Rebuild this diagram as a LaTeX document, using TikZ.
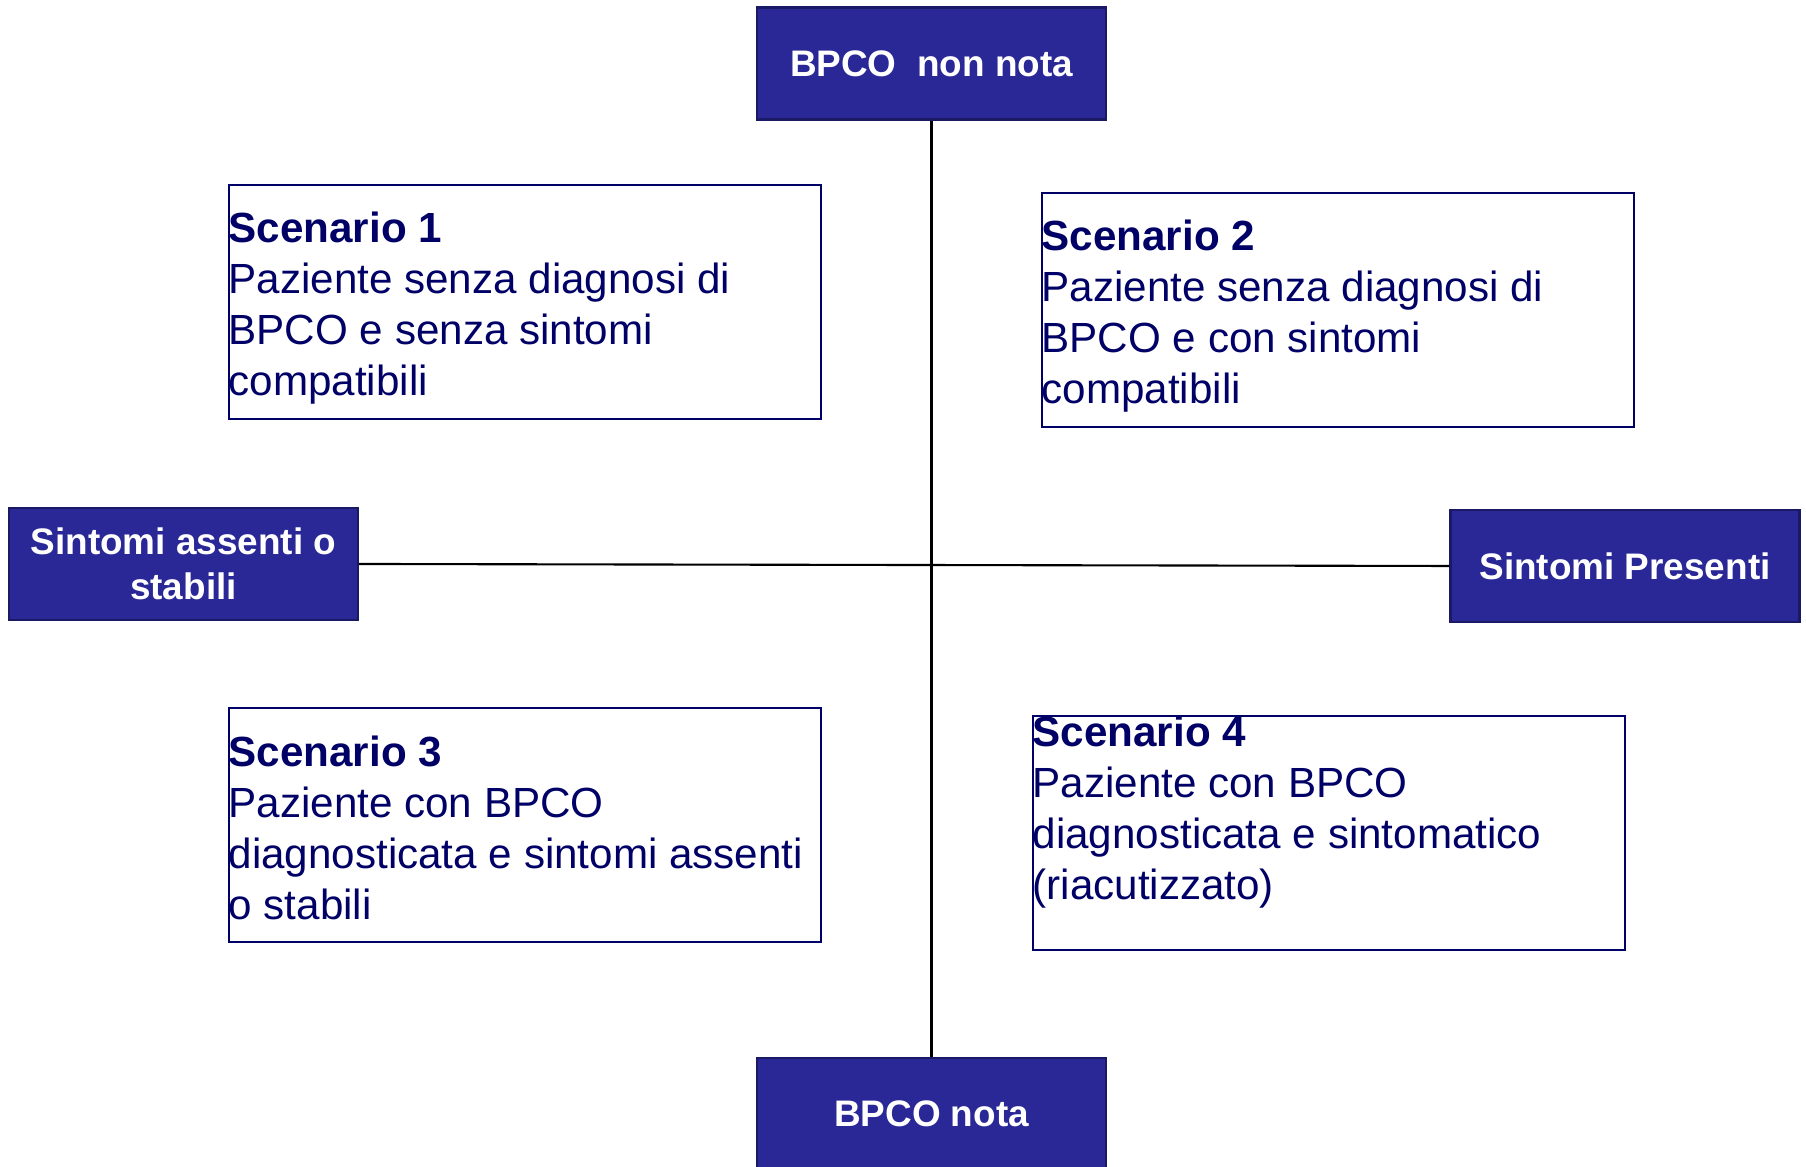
\documentclass[tikz,border=0pt]{standalone}
\usepackage{fontspec}
\setmainfont{Liberation Sans}
\definecolor{boxblue}{RGB}{41,40,150}
\definecolor{boxedge}{RGB}{25,25,100}
\definecolor{navy}{RGB}{0,0,102}

\tikzset{
  axisbox/.style={draw=boxedge,fill=boxblue,line width=0.6pt,minimum width=3.49cm,minimum height=1.12cm,
    text=white,font=\fontsize{10.5}{12.8}\selectfont\bfseries,align=center,inner sep=0pt},
  scenbox/.style={draw=navy,line width=0.6pt,minimum width=5.92cm,minimum height=2.34cm,inner sep=0pt},
  scentext/.style={anchor=west,inner sep=0pt,align=left,text=navy,font=\fontsize{12}{14.5}\selectfont},
  axisline/.style={line width=0.6pt,black}
}

\begin{document}
\begin{tikzpicture}
\useasboundingbox (0,0) rectangle (18.06,11.67);

% the four ends of the axes
\node[axisbox] (top)   at (9.315,11.035) {BPCO\ \ non nota};
\node[axisbox] (bot)   at (9.315,0.53)   {BPCO nota};
\node[axisbox] (left)  at (1.835,6.03)   {Sintomi assenti o\\stabili};
\node[axisbox] (right) at (16.25,6.01)   {Sintomi Presenti};

\draw[axisline] (top.south) -- (bot.north);
\draw[axisline] (left.east) -- (right.west);

% scenarios
\node[scenbox] (s1) at (5.25,8.65)  {};
\node[scenbox] (s2) at (13.38,8.57) {};
\node[scenbox] (s3) at (5.25,3.42)  {};
\node[scenbox] (s4) at (13.29,3.34) {};

\node[scentext] (t1) at ([yshift=-0.06cm]s1.west) {\textbf{Scenario 1}\\Paziente senza diagnosi di\\BPCO e senza sintomi\\compatibili};
\node[scentext] (t2) at ([yshift=-0.06cm]s2.west) {\textbf{Scenario 2}\\Paziente senza diagnosi di\\BPCO e con sintomi\\compatibili};
\node[scentext] (t3) at ([yshift=-0.03cm]s3.west) {\textbf{Scenario 3}\\Paziente con BPCO\\diagnosticata e sintomi assenti\\o stabili};
\node[scentext] (t4) at ([yshift=0.21cm]s4.west) {\textbf{Scenario 4}\\Paziente con BPCO\\diagnosticata e sintomatico\\(riacutizzato)};

\end{tikzpicture}
\end{document}
